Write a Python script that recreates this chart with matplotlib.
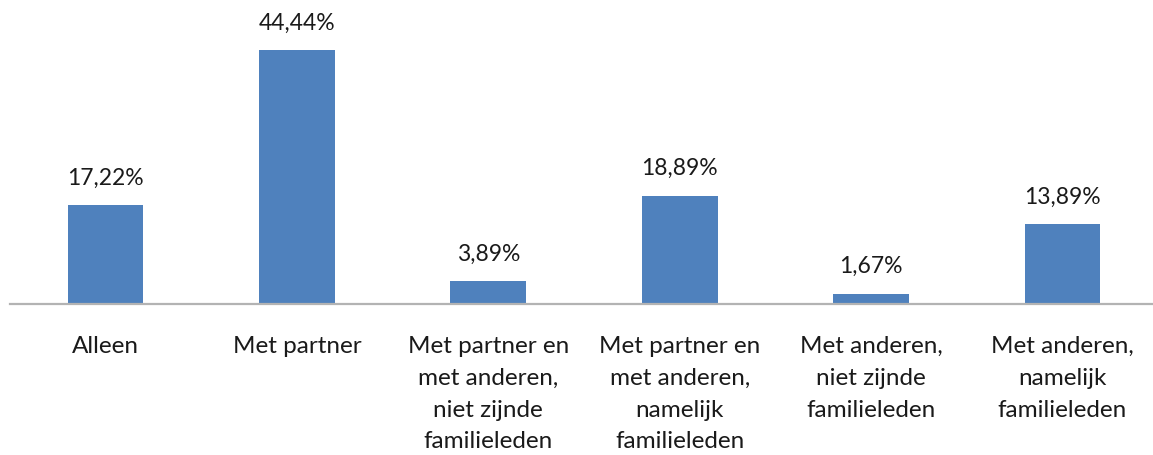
import matplotlib
matplotlib.use("Agg")
import matplotlib.pyplot as plt

categories = ["Alleen", "Met partner", "Met partner en\nmet anderen,\nniet zijnde\nfamilieleden",
              "Met partner en\nmet anderen,\nnamelijk\nfamilieleden",
              "Met anderen,\nniet zijnde\nfamilieleden", "Met anderen,\nnamelijk\nfamilieleden"]
values = [17.22, 44.44, 3.89, 18.89, 1.67, 13.89]
value_labels = ["17,22%", "44,44%", "3,89%", "18,89%", "1,67%", "13,89%"]

W, H = 1153, 455
fig = plt.figure(figsize=(W/100, H/100), dpi=100)
left = 9.8 / W
right = 1158.2 / W
bottom = (H - 303.5) / H
top = (H - 18.5) / H
ax = fig.add_axes([left, bottom, right - left, top - bottom])
ax.set_facecolor("none")

x = list(range(len(categories)))
ax.bar(x, values, width=0.395, color="#4f81bd", zorder=2)
ax.set_xlim(-0.5, len(categories) - 0.5)
ax.set_ylim(0, 50)

for xi, v, lab in zip(x, values, value_labels):
    ax.annotate(lab, (xi, v), xytext=(0, 12), textcoords="offset points",
                ha="center", va="bottom", fontsize=16.5, family="Lato", color="#1a1a1a")

ax.set_xticks(x)
ax.set_xticklabels(categories, fontsize=17.5, family="Lato", color="#1a1a1a", linespacing=1.63,
                   va="top", ha="center", multialignment="center")
ax.tick_params(axis="x", length=0, pad=23.5)
ax.set_yticks([])
for s in ["top", "left", "right"]:
    ax.spines[s].set_visible(False)
ax.spines["bottom"].set_color("#b3b3b3")
ax.spines["bottom"].set_linewidth(1.6)
ax.spines["bottom"].set_zorder(3)

fig.savefig("out.png", dpi=100)
